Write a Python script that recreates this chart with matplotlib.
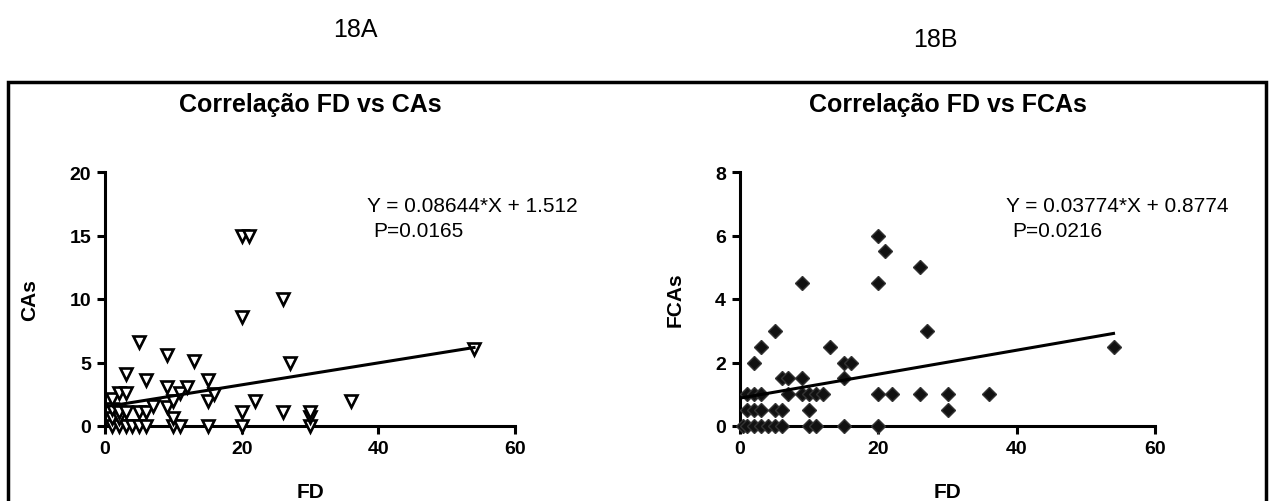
import numpy as np
import matplotlib
matplotlib.use("Agg")
from matplotlib import pyplot as plt
from matplotlib.patches import Rectangle

plt.rcParams['font.family'] = ['Liberation Sans', 'DejaVu Sans']

# Panel 18A: FD vs CAs
fd_a = [1, 2, 3, 4, 5, 6, 10, 11, 15, 20, 30,
        1, 2, 10, 30,
        1, 2, 3, 5, 6, 20, 26, 30,
        7, 9,
        1, 10, 15, 22, 36,
        2, 3, 11, 16,
        9, 12,
        6, 15,
        3,
        13, 27,
        9,
        54,
        5,
        20,
        26,
        20, 21]
cas = [0, 0, 0, 0, 0, 0, 0, 0, 0, 0, 0,
       0.6, 0.6, 0.6, 0.7,
       1.3, 1.1, 1.1, 1.1, 1.1, 1.1, 1.1, 1.1,
       1.6, 1.5,
       2.1, 2.0, 2.0, 2.0, 2.0,
       2.6, 2.6, 2.6, 2.5,
       3.1, 3.1,
       3.6, 3.6,
       4.1,
       5.1, 5.0,
       5.6,
       6.1,
       6.6,
       8.6,
       10.0,
       15.0, 15.0]

# Panel 18B: FD vs FCAs
fd_b = [0.5, 1, 2, 3, 4, 5, 6, 10, 11, 15, 20,
        1, 2, 3, 5, 6, 10, 30,
        1, 2, 3, 7, 9, 10, 11, 12, 20, 22, 26, 30, 36,
        6, 7, 9, 15,
        2, 15, 16,
        3, 13, 54,
        5, 27,
        9, 20,
        26,
        21,
        20]
fcas = [0, 0, 0, 0, 0, 0, 0, 0, 0, 0, 0,
        0.5, 0.5, 0.5, 0.5, 0.5, 0.5, 0.5,
        1, 1, 1, 1, 1, 1, 1, 1, 1, 1, 1, 1, 1,
        1.5, 1.5, 1.5, 1.5,
        2, 2, 2,
        2.5, 2.5, 2.5,
        3, 3,
        4.5, 4.5,
        5,
        5.5,
        6]

slopes = [0.08644, 0.03774]
intercepts = [1.512, 0.8774]
p_values = ["0.0165", "0.0216"]
titles = ["Correlação FD vs CAs", "Correlação FD vs FCAs"]
ylabels = ["CAs", "FCAs"]
panel_labels = ["18A", "18B"]

fig = plt.figure(figsize=(12.74, 5.02), dpi=100)

# outer frame
fig.patches.append(Rectangle((8 / 1274, -0.02), 1258 / 1274, (502 - 83) / 502 + 0.02,
                             transform=fig.transFigure, fill=False,
                             edgecolor='black', linewidth=2.5))

fig.text(355 / 1274, 1 - 30 / 502, panel_labels[0], ha='center', va='center', fontsize=18)
fig.text(935 / 1274, 1 - 40 / 502, panel_labels[1], ha='center', va='center', fontsize=18)

ax_a = fig.add_axes([105 / 1274, 75 / 502, 410 / 1274, 254 / 502])
ax_b = fig.add_axes([740 / 1274, 75 / 502, 415 / 1274, 254 / 502])

panels = [
    (ax_a, fd_a, cas, 20, [0, 5, 10, 15, 20]),
    (ax_b, fd_b, fcas, 8, [0, 2, 4, 6, 8]),
]

for i, (ax, x, y, ymax, yt) in enumerate(panels):
    if i == 0:
        ax.plot(x, y, linestyle='none', marker='v', markersize=9,
                markerfacecolor='white', markeredgecolor='black',
                markeredgewidth=1.9, clip_on=False, zorder=3)
    else:
        ax.plot(x, y, linestyle='none', marker='D', markersize=7.5,
                markerfacecolor='#111111', markeredgecolor='#333333',
                markeredgewidth=1.0, clip_on=False, zorder=3)
    xl = np.array([0, max(x)])
    ax.plot(xl, slopes[i] * xl + intercepts[i], color='black', linewidth=2.2, zorder=4)
    ax.set_xlim(0, 60)
    ax.set_ylim(0, ymax)
    ax.set_xticks([0, 20, 40, 60])
    ax.set_yticks(yt)
    for s in ['top', 'right']:
        ax.spines[s].set_visible(False)
    for s in ['left', 'bottom']:
        ax.spines[s].set_linewidth(2.2)
    ax.tick_params(direction='out', length=6, width=2.2, labelsize=14, pad=4)
    for lab in ax.get_xticklabels() + ax.get_yticklabels():
        lab.set_fontweight('bold')
    ax.set_xlabel("FD", fontsize=15, fontweight='bold', labelpad=18)
    ax.set_ylabel(ylabels[i], fontsize=15, fontweight='bold', labelpad=22)
    ax.set_title(titles[i], fontsize=18, fontweight='bold', pad=44)
    ax.text(0.64, 0.87, "Y = %s*X + %s" % (slopes[i], intercepts[i]),
            transform=ax.transAxes, fontsize=15, ha='left', va='center')
    ax.text(0.655, 0.77, "P=" + p_values[i], transform=ax.transAxes,
            fontsize=15, ha='left', va='center')

fig.savefig("out.png", dpi=100)
